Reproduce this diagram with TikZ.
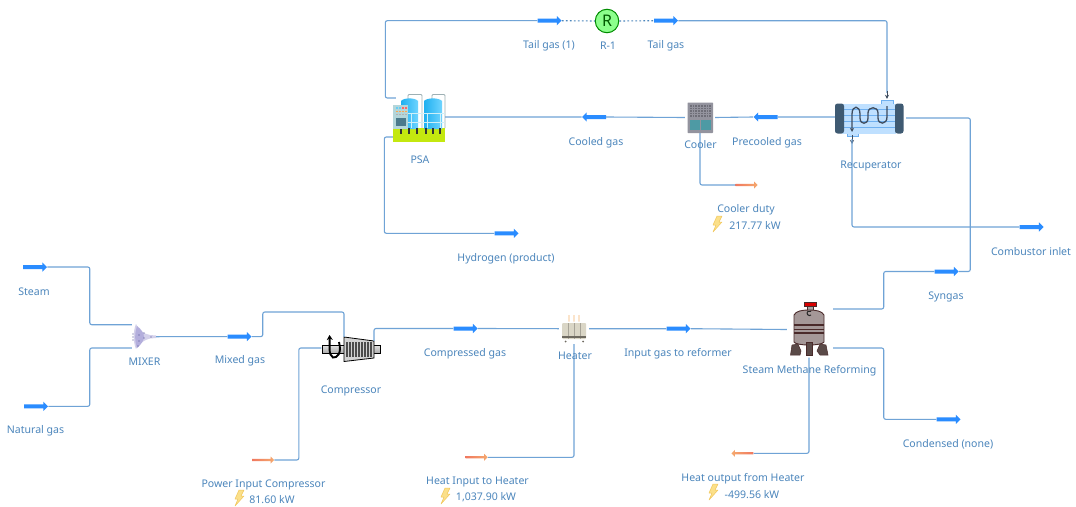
\documentclass[tikz,border=0pt]{standalone}
\usepackage{fontspec}
\setmainfont{Noto Sans}
\usetikzlibrary{arrows.meta,shapes.arrows}
\definecolor{linecol}{HTML}{6FA3D6}
\definecolor{textcol}{HTML}{4C86BC}
\definecolor{streamcol}{HTML}{2A8CFF}
\definecolor{darkpipe}{HTML}{3E4C5E}
\definecolor{HeatA}{HTML}{F0785F}
\definecolor{HeatB}{HTML}{F5A96E}
\definecolor{capcol}{HTML}{3F5A72}
\definecolor{recbody}{HTML}{BFE0FF}
\definecolor{recline}{HTML}{6FB0F0}
\definecolor{coolbody}{HTML}{93939E}
\definecolor{coolgrid}{HTML}{6E6E78}
\definecolor{coolteal}{HTML}{4E9AA4}
\definecolor{smrbody}{HTML}{A59898}
\definecolor{smrline}{HTML}{4A2A2A}
\definecolor{smrfoot}{HTML}{5A4A48}
\definecolor{mixlight}{HTML}{D3D0EA}
\definecolor{mixmid}{HTML}{B3AEDC}
\definecolor{mixdot}{HTML}{4A4A90}
\definecolor{heatbody}{HTML}{DAD6C6}
\definecolor{heatrib}{HTML}{A8A498}
\definecolor{heatband}{HTML}{6E6A60}
\definecolor{flame}{HTML}{F6B46E}
\definecolor{limecol}{HTML}{C4E80F}
\definecolor{tankA}{HTML}{1FB0F0}
\definecolor{tankB}{HTML}{6FD4FF}
\definecolor{panel}{HTML}{B4D6DA}
\definecolor{screen}{HTML}{4B7A8C}
\definecolor{pipegray}{HTML}{9DB0B4}
\definecolor{rail}{HTML}{CFEFF7}
\definecolor{boltfill}{HTML}{FBE08A}
\definecolor{boltline}{HTML}{F2C75C}
\tikzset{
  x=1pt,y=-1pt,
  flow/.style={draw=linecol,line width=1.1pt,rounded corners=2pt},
  dotline/.style={draw=textcol,line width=1.1pt,dash pattern=on 1.8pt off 2.2pt},
  lab/.style={text=textcol,font=\fontsize{10.55}{12}\selectfont,inner sep=0pt,anchor=center,yshift=-.5pt},
  streamr/.style={single arrow,fill=streamcol,draw=none,inner sep=0pt,text height=3.6pt,text depth=0pt,text width=0pt,minimum height=24pt,single arrow head extend=2.6pt,single arrow tip angle=90},
  streaml/.style={streamr,shape border rotate=180},
  heatr/.style={single arrow,left color=HeatA,right color=HeatB,draw=none,inner sep=0pt,text height=1.8pt,text depth=0pt,text width=0pt,minimum height=22pt,single arrow head extend=2.4pt,single arrow tip angle=90},
  heatl/.style={heatr,left color=HeatB,right color=HeatA,shape border rotate=180},
  icon/.style={draw=none,fill=none,inner sep=0pt,rectangle},
  boltpic/.pic={\path[fill=boltfill,draw=boltline,line width=.5pt,line join=round]
    (0,-8) -- (5,-8) -- (2,-2) -- (5,-2) -- (-4,8) -- (-1,1) -- (-4,1) -- cycle;},
}
\begin{document}
\begin{tikzpicture}
\useasboundingbox[fill=white] (0,0) rectangle (1076,506);

% ---- equipment anchors
\node[icon,minimum width=24pt,minimum height=26pt] (mixer) at (144,336.7) {};
\node[icon,minimum width=58pt,minimum height=24pt] (comp) at (351,349) {};
\node[icon,minimum width=30pt,minimum height=30.6pt] (heater) at (574,328.7) {};
\node[icon,minimum width=46pt,minimum height=56pt] (smr) at (810,329.5) {};
\node[icon,minimum width=71pt,minimum height=43pt] (rec) at (870.5,119.5) {};
\node[icon,minimum width=30pt,minimum height=31pt] (cooler) at (700,117.5) {};
\node[icon,minimum width=52pt,minimum height=48pt] (psa) at (419,118) {};
\node[circle,draw=green!55!black,line width=1pt,fill=green!45!white,minimum size=23.5pt,inner sep=0pt,text=green!35!black,font=\fontsize{16}{16}\selectfont] (r1) at (607,21) {R};

% ---- stream arrows
\node[streamr] (steam) at (34,267) {};
\node[streamr] (natgas) at (35,406.3) {};
\node[streamr] (mixed) at (238.5,336.6) {};
\node[streamr] (compressed) at (464.5,328.5) {};
\node[streamr] (gasin) at (677.5,328.7) {};
\node[streamr] (syngas) at (945.5,271.5) {};
\node[streamr] (condensed) at (947.5,419.3) {};
\node[streamr] (combustor) at (1030.5,227) {};
\node[streamr] (hydrogen) at (505.5,233.3) {};
\node[streamr] (taila) at (548.5,20.7) {};
\node[streamr] (tailb) at (665,20.7) {};
\node[streaml] (cooled) at (595,117) {};
\node[streaml] (precooled) at (766.5,117) {};
\node[heatr] (powerin) at (262.5,460) {};
\node[heatr] (heatin) at (476,457.3) {};
\node[heatl] (heatout) at (743,453.3) {};
\node[heatr] (duty) at (746,185) {};

% ---- MIXER icon
\path[fill=mixlight] (136,324) .. controls (138,330) and (144,334) .. (150,335) -- (156,335.5) -- (156,338) -- (150,338.5) .. controls (144,340) and (138,344) .. (136,349) .. controls (133,342) and (133,331) .. (136,324) -- cycle;
\path[fill=mixmid] (137,326) .. controls (134.5,333) and (134.5,341) .. (137,348) .. controls (141,345) and (144,340) .. (144,337) .. controls (144,333) and (141,329) .. (137,326) -- cycle;
\foreach \p in {(133,334),(133,337),(133,340),(139,335),(139,341),(144,333),(144,338),(138,346),(151,337)}
  \fill[mixdot] \p circle (.6);

% ---- Compressor icon
\path[top color=gray!25,bottom color=gray!65,draw=black,line width=.6pt] (322,345.5) rectangle (380,353);
\path[fill=gray!35,draw=black,line width=.8pt] (344,337) -- (374,341) -- (374,358) -- (344,361.5) -- cycle;
\foreach \x in {347,350,...,371} \draw[black!70,line width=1.1pt] (\x,342) -- (\x,357);
\draw[black,line width=1.9pt,-{Stealth[length=5pt,width=6pt]}] (339,342) .. controls (342,354) and (337,358) .. (333,357.5) .. controls (328,355) and (330,345) .. (329.5,335);

% ---- Heater icon
\foreach \x in {569,574,579} \draw[flame,line width=.9pt] (\x,321.5) .. controls (\x-1.5,319) and (\x+1.5,318) .. (\x,315);
\path[fill=heatbody,rounded corners=1pt] (562,323) rectangle (586,339);
\foreach \x in {568,574,580} \draw[heatrib,line width=.6pt] (\x,323) -- (\x,339);
\draw[heatband,line width=1.1pt] (562,337) -- (586,337);
\foreach \x in {565.5,583} \fill[heatband] (\x,341.5) circle (1);

% ---- Steam Methane Reforming icon
\path[fill=red!85!black,draw=smrline,line width=.5pt] (804,302) rectangle (816,306.5);
\path[fill=gray!70,draw=smrline,line width=.4pt] (807,306.5) rectangle (813,310);
\path[fill=smrbody,draw=smrline,line width=.9pt] (794,315) .. controls (796,311) and (802,310) .. (809,310) .. controls (816,310) and (822,311) .. (824,315) -- (824,342) .. controls (822,346) and (796,346) .. (794,342) -- cycle;
\draw[smrline,line width=1.1pt] (794,325) -- (824,325) (794,329.5) -- (824,329.5) (794,333) -- (824,333);
\path[fill=smrfoot,draw=smrline,line width=.5pt] (792,345) -- (798,344) -- (801,351) -- (800,355) -- (790.5,355) -- cycle;
\path[fill=smrfoot,draw=smrline,line width=.5pt] (826,345) -- (820,344) -- (817,351) -- (820,355) -- (828,355) -- cycle;
\path[fill=smrfoot,draw=smrline,line width=.5pt] (806.5,342) rectangle (812,355);
\draw[black!85,line width=1pt] (811,315) arc[start angle=50,end angle=310,radius=2.4];

% ---- Recuperator icon
\path[fill=recbody,draw=recline,line width=.6pt] (881,104) -- (881,100) -- (893,100) -- (893,104) -- cycle;
\path[fill=recbody,draw=recline,line width=.6pt] (847,133) -- (847,136) -- (858,136) -- (858,133) -- cycle;
\path[fill=recbody] (842,103.5) rectangle (896,133.5);
\foreach \y in {109,115,121,127} \draw[recline,line width=.8pt] (843,\y) -- (896,\y);
\path[fill=capcol,rounded corners=2.5pt] (835,103.5) rectangle (844,133.5);
\path[fill=capcol,rounded corners=2.5pt] (895,103.5) rectangle (903.5,133.5);
\draw[darkpipe,line width=1.3pt,-{Stealth[length=4pt,width=4pt]}] (887,106) -- (887,117) .. controls (887,125) and (878,125) .. (878,118) -- (878,113) .. controls (878,106) and (868,106) .. (868,113) -- (868,118) .. controls (868,125) and (860,125) .. (860,118) -- (860,114) .. controls (860,105) and (852,105) .. (852,114) -- (852,132);
\draw[darkpipe,line width=1pt,-{Stealth[length=4pt,width=4pt]}] (852,135) -- (852,144);

% ---- Cooler icon
\path[fill=coolbody,rounded corners=.6pt] (687.5,102.5) rectangle (713,133);
\path[fill=coolgrid] (689.5,105) rectangle (699.5,118);
\path[fill=coolgrid] (701,105) rectangle (711,118);
\foreach \y in {107,109.5,...,117} \draw[coolbody,line width=.4pt] (689.5,\y) -- (711,\y);
\foreach \x in {692,694.5,697,703.5,706,708.5} \draw[coolbody,line width=.4pt] (\x,105) -- (\x,118);
\path[fill=coolteal] (689.5,119.5) rectangle (699.5,130);
\path[fill=coolteal] (701,119.5) rectangle (711,130);

% ---- PSA icon
\draw[pipegray,line width=.9pt,rounded corners=1pt] (408,100) -- (408,94.5) -- (422,94.5) -- (422,128);
\draw[pipegray,line width=.9pt,rounded corners=1pt] (432,100) -- (432,94.5) -- (445,94.5) -- (445,128);
\path[fill=limecol] (393,128) rectangle (445,141.5);
\path[left color=tankA,right color=tankB] (401,101) .. controls (404,97.5) and (415,97.5) .. (418,101) -- (418,129) -- (401,129) -- cycle;
\path[left color=tankA,right color=tankB] (424,101) .. controls (427,97.5) and (439,97.5) .. (442,101) -- (442,129) -- (424,129) -- cycle;
\draw[rail,line width=.9pt] (404,113) -- (445,113) (404,122) -- (445,122) (411,113) -- (411,128) (427,113) -- (427,128) (440,113) -- (440,128);
\foreach \x in {400,408,416,425,432,439} \fill[black!80] (\x,128) rectangle ++(2,6);
\path[fill=panel] (393,104.5) rectangle (408,129);
\path[fill=screen] (395.5,118) rectangle (406,125.5);
\foreach \x/\c in {396/cyan!60,399/cyan!60,402/red!60,405/red!60} {\fill[\c] (\x,107) rectangle ++(1.8,1.8);\fill[orange!70] (\x,110.5) rectangle ++(1.8,1.8);\fill[gray!60] (\x,113.5) rectangle ++(1.8,1.8);}

% ---- connectors
\draw[flow] (steam.east) -- ++(42.5,0) |- ([yshift=12pt]mixer.west);
\draw[flow] (natgas.east) -- ++(41.5,0) |- ([yshift=-11.3pt]mixer.west);
\draw[flow] (mixer.east) -- (mixed.west);
\draw[flow] (mixed.east) -- ++(11,0) -- ++(0,-24.6) -| ([xshift=-7pt]comp.north);
\draw[flow] ([xshift=23pt,yshift=-4pt]comp.north) |- (compressed.west);
\draw[flow] (compressed.east) -- (heater.west);
\draw[flow] (powerin.east) -- ++(24.5,0) |- ([xshift=-.5pt,yshift=1pt]comp.west);
\draw[flow] (heater.east) -- (gasin.west);
\draw[flow] (gasin.east) -- (smr.west);
\draw[flow] (heater.south) |- (heatin.east);
\draw[flow] ([yshift=20.5pt]smr.east) -- ++(50.5,0) |- (syngas.west);
\draw[flow] (syngas.east) -- ++(11.5,0) |- ([yshift=1.5pt]rec.east);
\draw[flow] ([yshift=-18.5pt]smr.east) -- ++(50.5,0) |- (condensed.west);
\draw[flow] ([xshift=-1pt]smr.south) |- (heatout.east);
\draw[flow] ([yshift=2.5pt]rec.west) -- (precooled.east);
\draw[flow] (precooled.west) -- (cooler.east);
\draw[flow] (cooler.west) -- (cooled.east);
\draw[flow] (cooled.west) -- ([yshift=1pt]psa.east);
\draw[flow] (cooler.south) |- (duty.west);
\draw[flow] ([xshift=-18.5pt,yshift=2pt]rec.south) |- (combustor.west);
\draw[flow] (taila.west) -- ++(-152,0) |- ([xshift=3pt,yshift=20pt]psa.west);
\draw[flow] ([yshift=-19pt]psa.west) -- ++(-8.5,0) |- (hydrogen.west);
\draw[dotline] (taila.east) -- (r1.west);
\draw[dotline] (r1.east) -- (tailb.west);
\draw[flow] (tailb.east) -| ([xshift=16.5pt,yshift=5pt]rec.north);
\draw[darkpipe,line width=1pt,-{Stealth[length=4pt,width=4pt]}] ([xshift=16.5pt,yshift=7pt]rec.north) -- ([xshift=16.5pt,yshift=-1pt]rec.north);

% ---- labels
\node[lab] (lsteam) at (34,291) {Steam};
\node[lab] (lnat) at (35.5,430.5) {Natural gas};
\node[lab] (lmix) at (144.5,361) {MIXER};
\node[lab] (lmixed) at (240,360) {Mixed gas};
\node[lab] (lcomp) at (351,390) {Compressor};
\node[lab] (lpower) at (263.5,484.5) {Power Input Compressor};
\node[lab] (vpower) at (272,499) {81.60 kW};
\node[lab] (lcompressed) at (465,353) {Compressed gas};
\node[lab] (lheater) at (575,355.5) {Heater};
\node[lab] (lgasin) at (678,353) {Input gas to reformer};
\node[lab] (lheatin) at (477.5,481.5) {Heat Input to Heater};
\node[lab] (vheatin) at (486,497) {1,037.90 kW};
\node[lab] (lsmr) at (809.5,370.5) {Steam Methane Reforming};
\node[lab] (lheatout) at (743,478) {Heat output from Heater};
\node[lab] (vheatout) at (752,494) {-499.56 kW};
\node[lab] (lcond) at (948,444) {Condensed (none)};
\node[lab] (lsyn) at (946,296) {Syngas};
\node[lab] (lcomb) at (1031,251) {Combustor inlet};
\node[lab] (lhyd) at (506,258) {Hydrogen (product)};
\node[lab] (lduty) at (746,209) {Cooler duty};
\node[lab] (vduty) at (755,225.5) {217.77 kW};
\node[lab] (lrec) at (871,165) {Recuperator};
\node[lab] (lpre) at (767,142) {Precooled gas};
\node[lab] (lcool) at (700.5,144) {Cooler};
\node[lab] (lcooled) at (596,142) {Cooled gas};
\node[lab] (lpsa) at (420,159.5) {PSA};
\node[lab] (ltaila) at (549,45) {Tail gas (1)};
\node[lab] (lr1) at (608,45.5) {R-1};
\node[lab] (ltailb) at (666,45) {Tail gas};

\pic at (239,498) {boltpic};
\pic at (445,496) {boltpic};
\pic at (713,492) {boltpic};
\pic at (717,224) {boltpic};
\end{tikzpicture}
\end{document}
